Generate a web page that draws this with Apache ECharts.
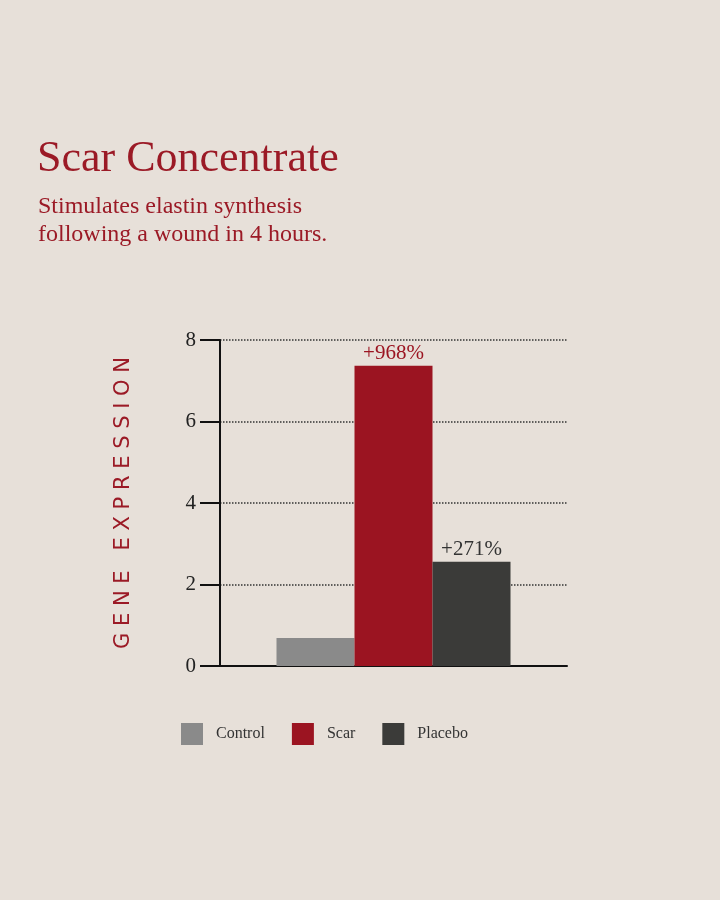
<!DOCTYPE html>
<html><head><meta charset="utf-8">
<script src="https://cdn.jsdelivr.net/npm/echarts@6/dist/echarts.min.js"></script>
<style>html,body{margin:0;padding:0;background:#e7e0d9}#c{width:720px;height:900px}</style>
</head><body><div id="c"></div>
<script>
const seriesNames = ['Control', 'Scar', 'Placebo'];
const seriesValues = [0.69, 7.37, 2.56];
const barLabels = ['', '+968%', '+271%'];
const colors = ['#8a8a8a', '#9b1421', '#3b3b39'];
const labelColors = ['#333', '#9b1421', '#333'];
const yTicks = [0, 2, 4, 6, 8];
const serif = '"Liberation Serif", "DejaVu Serif", serif';

const chart = echarts.init(document.getElementById('c'));
chart.setOption({
  backgroundColor: '#e7e0d9',
  animation: false,
  title: [{
    text: 'Scar Concentrate', left: 32, top: 132,
    textStyle: { fontFamily: serif, fontWeight: 'normal', fontSize: 44, color: '#9b1a26' }
  }, {
    text: 'Stimulates elastin synthesis\nfollowing a wound in 4 hours.', left: 33, top: 188,
    textStyle: { fontFamily: serif, fontWeight: 'normal', fontSize: 24, lineHeight: 28, color: '#9b1a26' }
  }],
  legend: {
    top: 718, left: 176, itemWidth: 22, itemHeight: 22, itemGap: 27,
    icon: 'rect', data: seriesNames,
    textStyle: { fontFamily: serif, fontSize: 16, color: '#333', padding: [0, 0, 0, 8] }
  },
  grid: { left: 220, right: 153, top: 340, bottom: 234 },
  xAxis: {
    type: 'category', data: [''],
    axisLine: { lineStyle: { color: '#111', width: 2 } },
    axisTick: { show: false }, axisLabel: { show: false }
  },
  yAxis: {
    type: 'value', min: 0, max: 8, interval: 2,
    name: 'G E N E   E X P R E S S I O N', nameLocation: 'middle', nameGap: 86,
    nameTextStyle: { fontFamily: '"DejaVu Sans", sans-serif', fontSize: 21, color: '#9b1a26' },
    axisLine: { show: true, lineStyle: { color: '#111', width: 2 } },
    axisTick: { show: true, length: 20, lineStyle: { color: '#111', width: 2 } },
    axisLabel: { fontFamily: serif, fontSize: 21, color: '#222', margin: 24,
      formatter: v => yTicks.includes(v) ? String(v) : '' },
    splitLine: { lineStyle: { type: 'dotted', color: '#333', width: 1.5 } }
  },
  series: seriesNames.map((n, i) => ({
    name: n, type: 'bar', data: [seriesValues[i]], barWidth: 78, barGap: '0%',
    itemStyle: { color: colors[i] },
    label: { show: !!barLabels[i], position: 'top', formatter: barLabels[i], distance: 2,
      fontFamily: serif, fontSize: 21, color: labelColors[i] }
  }))
});
</script></body></html>
